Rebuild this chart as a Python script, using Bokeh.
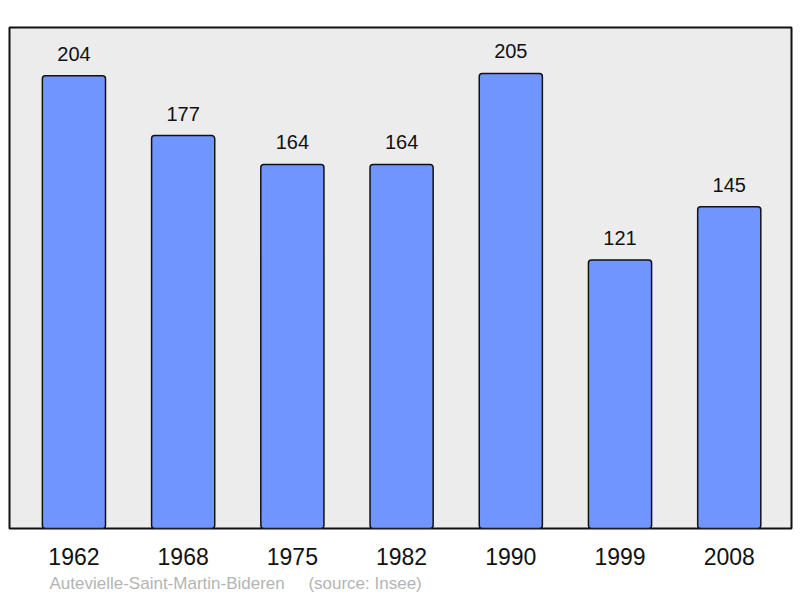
from bokeh.plotting import figure
from bokeh.models import ColumnDataSource, FixedTicker, Title, Range1d
from bokeh.core.properties import value
from bokeh.embed import file_html
from bokeh.resources import INLINE

years = ["1962", "1968", "1975", "1982", "1990", "1999", "2008"]
population = [204, 177, 164, 164, 205, 121, 145]
commune = "Autevielle-Saint-Martin-Bideren"
source_note = "(source: Insee)"

xs = list(range(len(years)))
src = ColumnDataSource(dict(x=xs, top=population, label=[str(v) for v in population]))

p = figure(width=798, height=598, output_backend="svg", toolbar_location=None,
           x_range=Range1d(-0.59, 6.57), y_range=Range1d(0, 225.7),
           min_border_left=9, min_border_right=7, min_border_top=27, min_border_bottom=70)
p.background_fill_color = "#ececec"
p.border_fill_color = "white"
p.outline_line_color = "#111111"
p.outline_line_width = 2
p.grid.visible = False
p.yaxis.visible = False

p.vbar(x="x", top="top", bottom=0, width=0.578, source=src,
       fill_color="#7195ff", line_color="#111111", line_width=1.5, border_radius=3)

p.text(x="x", y="top", text="label", source=src, y_offset=-22,
       text_align="center", text_baseline="middle",
       text_font=value("Liberation Sans"), text_font_size="20px", text_color="#111111")

xa = p.xaxis[0]
xa.ticker = FixedTicker(ticks=xs)
xa.major_label_overrides = {i: y for i, y in enumerate(years)}
xa.axis_line_color = None
xa.major_tick_line_color = None
xa.minor_tick_line_color = None
xa.major_label_standoff = 13
xa.major_label_text_font = "Liberation Sans"
xa.major_label_text_font_size = "23px"
xa.major_label_text_color = "#111111"

caption = commune + "\u00a0\u00a0\u00a0\u00a0\u00a0" + source_note
p.add_layout(Title(text=caption, align="left", offset=40, standoff=8,
                   text_font="Liberation Sans", text_font_size="17px",
                   text_font_style="normal", text_color="#b4b4b4"), "below")

open("out.html", "w").write(file_html(p, INLINE))
